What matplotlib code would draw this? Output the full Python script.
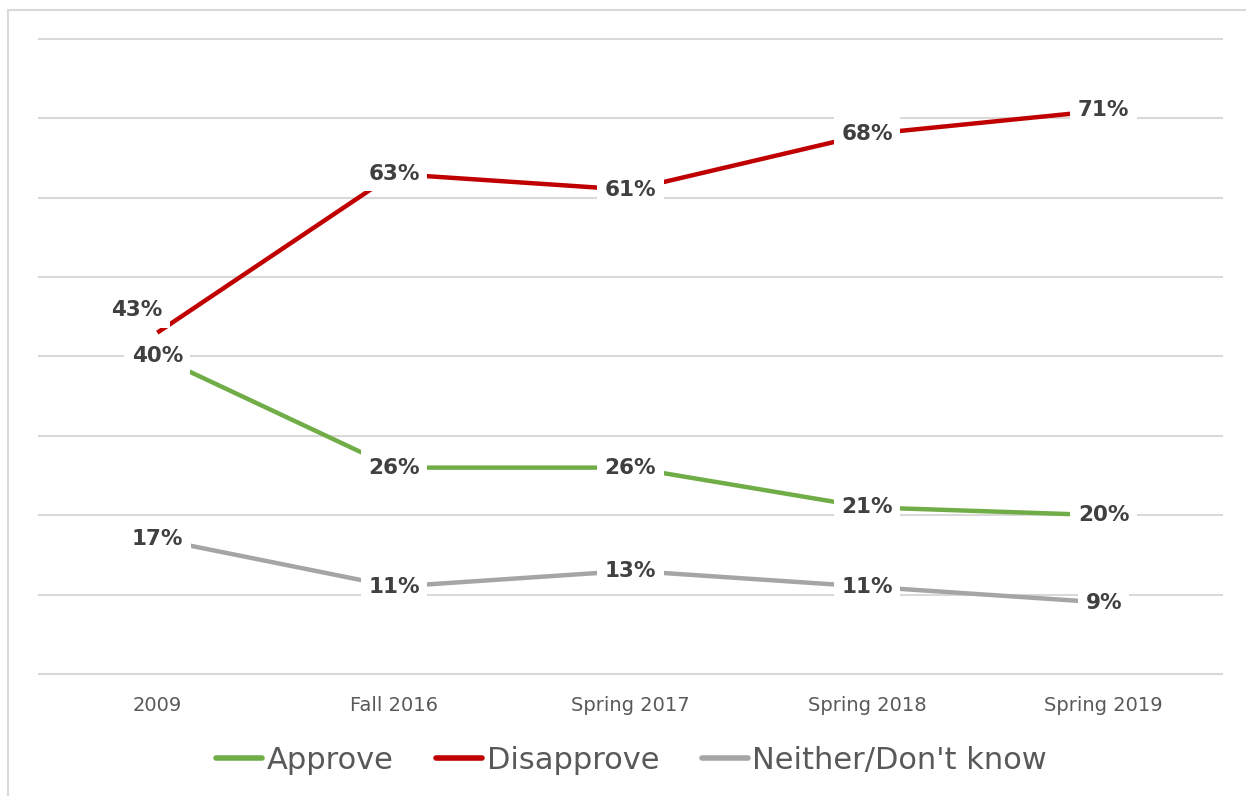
import matplotlib
matplotlib.use("Agg")
import matplotlib.pyplot as plt
from matplotlib.patches import Rectangle

# Survey waves and shares (%)
waves = ["2009", "Fall 2016", "Spring 2017", "Spring 2018", "Spring 2019"]
approve = [40, 26, 26, 21, 20]
disapprove = [43, 63, 61, 68, 71]
neither = [17, 11, 13, 11, 9]

series_names = ["Approve", "Disapprove", "Neither/Don't know"]
colors = ["#70AD47", "#C00000", "#A5A5A5"]

plt.rcParams['font.family'] = ['DejaVu Sans']

fig = plt.figure(figsize=(12.46, 7.96), dpi=100)
ax = fig.add_axes([0.0313, 0.1533, 0.9494, 0.7977])

# light border around the chart area (runs off right/bottom like the source)
fig.patches.append(Rectangle((8 / 1246, -0.05), 1.1, 1 - 10 / 796 + 0.05,
                             transform=fig.transFigure, fill=False,
                             edgecolor="#D9D9D9", linewidth=1.5))

x = list(range(len(waves)))
for vals, name, c in zip([approve, disapprove, neither], series_names, colors):
    ax.plot(x, vals, color=c, linewidth=3.2, label=name, zorder=3,
            solid_capstyle="butt")

# data labels, white boxes over the line
label_box = dict(boxstyle="square,pad=0.35", facecolor="white", edgecolor="none")
for vals in [approve, disapprove, neither]:
    for i, v in enumerate(vals):
        dx, dy = 0, 0
        if vals is disapprove and i == 0:
            dx, dy = -15, 16  # 43% sits above-left of its point
        ax.annotate(f"{v}%", (i, v), xytext=(dx, dy), textcoords="offset points",
                    ha="center", va="center", fontsize=15.5, fontweight="bold",
                    color="#404040", bbox=label_box, zorder=5)

ax.set_xlim(-0.5, len(waves) - 0.5)
ax.set_ylim(0, 80)
ax.set_yticks(range(0, 81, 10))
ax.yaxis.grid(True, color="#D9D9D9", linewidth=1.5, zorder=0)
for g in ax.get_ygridlines():
    g.set_clip_on(False)
ax.set_axisbelow(True)
ax.tick_params(axis="y", left=False, labelleft=False)
ax.tick_params(axis="x", bottom=False, pad=12, labelsize=14, labelcolor="#595959")
ax.set_xticks(x)
ax.set_xticklabels(waves)
for s in ax.spines.values():
    s.set_visible(False)

leg = fig.legend(loc="center", bbox_to_anchor=(0.507, 0.045), ncol=3, frameon=False,
                 fontsize=22, handlelength=1.5, handletextpad=0.15,
                 columnspacing=1.4)
for t in leg.get_texts():
    t.set_color("#595959")
for h in leg.get_lines():
    h.set_linewidth(4)
    h.set_solid_capstyle("round")

fig.savefig("out.png", dpi=100)
